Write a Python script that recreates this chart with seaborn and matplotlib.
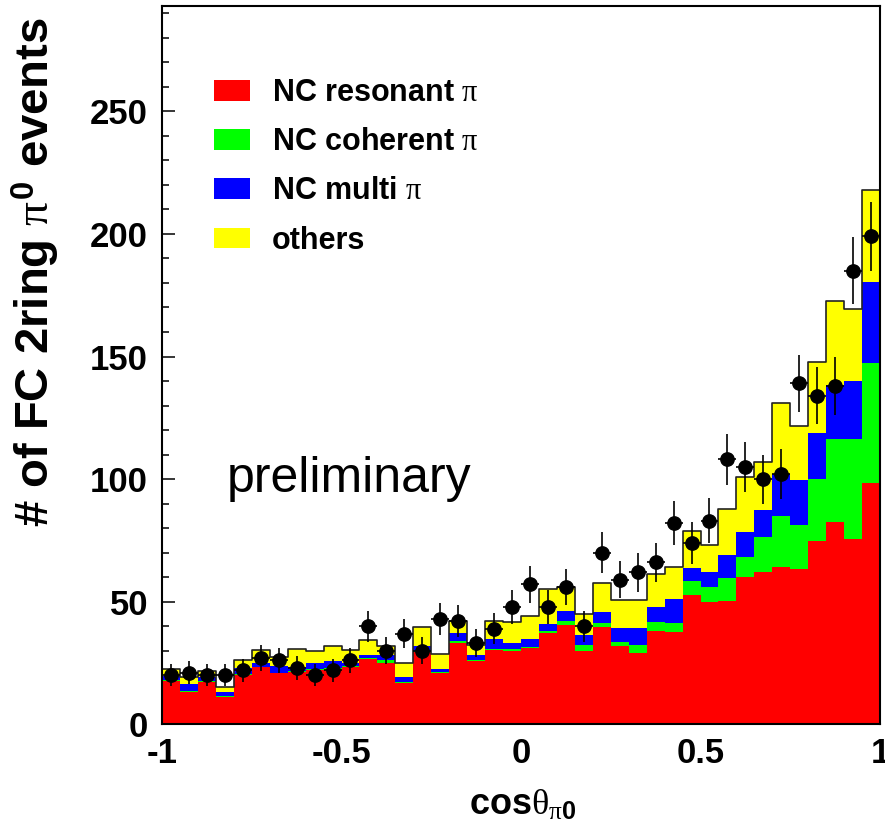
import numpy as np
import pandas as pd
import matplotlib
matplotlib.use("Agg")
import matplotlib.pyplot as plt
from matplotlib.patches import Patch
from matplotlib.ticker import MultipleLocator
import seaborn as sns

# 40 bins in cos(theta_pi0) from -1 to 1
bin_edges = np.linspace(-1.0, 1.0, 41)
bin_centers = 0.5 * (bin_edges[:-1] + bin_edges[1:])

# Monte Carlo expectation per bin, split by interaction mode
nc_resonant = [17.7, 13.3, 17.4, 11.3, 20.1, 23.3, 20.8, 21.2, 22.2, 22.6,
               23.5, 26.5, 25.0, 17.0, 29.3, 20.7, 33.3, 25.6, 30.1, 29.8,
               30.9, 37.4, 40.5, 29.7, 39.6, 31.7, 29.0, 38.2, 37.8, 52.8,
               49.7, 50.1, 59.9, 62.2, 64.2, 63.3, 74.8, 82.5, 75.5, 98.5]
nc_coherent = [0.3, 0.2, 0.2, 0.4, 0.2, 0.2, 0.2, 0.3, 0.4, 0.3,
               0.3, 0.7, 1.3, 0.2, 0.6, 0.7, 0.8, 0.7, 0.6, 0.9,
               0.4, 0.8, 1.7, 2.7, 1.6, 1.9, 3.2, 3.6, 3.6, 5.7,
               6.1, 9.4, 8.4, 14.3, 20.8, 17.9, 25.4, 33.7, 40.7, 48.8]
nc_multi = [1.6, 2.8, 1.6, 1.5, 2.6, 1.4, 2.8, 2.0, 2.3, 2.7,
            1.1, 1.1, 2.0, 2.1, 2.1, 1.2, 3.2, 2.0, 4.1, 2.5,
            3.3, 2.8, 3.8, 4.1, 4.4, 5.7, 7.1, 6.1, 9.8, 5.3,
            6.4, 9.6, 10.2, 11.0, 17.1, 18.4, 18.7, 22.2, 23.7, 33.0]
others = [2.8, 2.9, 2.3, 1.9, 3.1, 5.4, 3.8, 7.1, 5.0, 6.5,
          5.2, 6.0, 3.8, 5.6, 7.5, 6.0, 4.6, 4.1, 7.2, 8.3,
          9.6, 14.1, 9.8, 8.4, 12.2, 11.3, 11.2, 13.3, 12.9, 15.1,
          11.0, 18.8, 22.4, 19.4, 29.1, 21.9, 28.9, 34.1, 29.6, 37.8]

# Observed events per bin
data_counts = [20, 21, 20, 20, 22, 27, 26, 23, 20, 22,
               26, 40, 30, 37, 30, 43, 42, 33, 39, 48,
               57, 48, 56, 40, 70, 59, 62, 66, 82, 74,
               83, 108, 105, 100, 102, 139, 134, 138, 185, 199]

mode_labels = ["NC resonant $\\pi$", "NC coherent $\\pi$", "NC multi $\\pi$", "others"]
mode_colors = ["#ff0000", "#00ff00", "#0000ff", "#ffff00"]

sns.set_theme(style="ticks")
plt.rcParams["font.family"] = ["Liberation Sans", "DejaVu Sans"]
plt.rcParams["axes.unicode_minus"] = False
plt.rcParams["mathtext.fontset"] = "custom"
plt.rcParams["mathtext.rm"] = "Liberation Serif"
plt.rcParams["mathtext.it"] = "Liberation Serif"
plt.rcParams["mathtext.bf"] = "Liberation Sans:bold"
for key in ["text.color", "axes.labelcolor", "xtick.color", "ytick.color",
            "xtick.labelcolor", "ytick.labelcolor", "axes.edgecolor"]:
    plt.rcParams[key] = "black"

mc = pd.DataFrame({
    "cos": np.tile(bin_centers, 4),
    "n": np.concatenate([nc_resonant, nc_coherent, nc_multi, others]),
    "mode": np.repeat(mode_labels, len(bin_centers)),
})
total = np.array(nc_resonant) + np.array(nc_coherent) + np.array(nc_multi) + np.array(others)
edges_list = list(bin_edges)

fig = plt.figure(figsize=(8.85, 8.27), dpi=100)
ax = fig.add_axes([162 / 885, (827 - 724.2) / 827, 718 / 885, 718.2 / 827])

# stacked MC components (last hue level ends up at the bottom of the stack)
sns.histplot(data=mc, x="cos", weights="n", hue="mode",
             hue_order=mode_labels[::-1],
             palette=dict(zip(mode_labels, mode_colors)),
             bins=edges_list, multiple="stack", element="step",
             fill=True, alpha=1, linewidth=0, legend=False, ax=ax)

# outline of the total expectation
sns.histplot(x=bin_centers, weights=total, bins=edges_list, element="step",
             fill=False, color="#222222", linewidth=1.2, ax=ax)

# data points with sqrt(N) errors
ax.errorbar(bin_centers, data_counts, yerr=np.sqrt(data_counts), xerr=0.025,
            fmt="o", color="black", ms=9.6, elinewidth=1.2, capsize=0, zorder=5)

ax.set_xlim(-1, 1)
ax.set_ylim(0, 293)
ax.xaxis.set_minor_locator(MultipleLocator(0.1))
ax.yaxis.set_minor_locator(MultipleLocator(10))
ax.set_xticks([-1, -0.5, 0, 0.5, 1])
ax.set_xticklabels(["-1", "-0.5", "0", "0.5", "1"])
ax.set_yticks([0, 50, 100, 150, 200, 250])
ax.set_yticklabels(["0", "50", "100", "150", "200", "250"])
ax.tick_params(which="both", direction="in", top=False, right=False,
               width=1.1, color="black", labelcolor="black")
ax.tick_params(which="major", length=9.4)
ax.tick_params(which="minor", length=5)
ax.tick_params(axis="y", which="major", pad=10)
ax.tick_params(axis="x", which="major", pad=9)
for lab in ax.get_xticklabels() + ax.get_yticklabels():
    lab.set_fontsize(25)
    lab.set_fontweight("bold")
for sp in ax.spines.values():
    sp.set_linewidth(1.5)
    sp.set_color("black")
    sp.set_visible(True)
ax.set_xlabel("")
ax.set_ylabel("")

fig.text(62 / 885, 1 - 17 / 827, "# of FC 2ring $\\pi^{\\mathbf{0}}$ events",
         rotation=90, ha="right", va="top", fontsize=34, fontweight="bold",
         color="black")
fig.text(523 / 885, 1 - 815 / 827, "cos$\\theta_{\\pi\\mathbf{0}}$",
         ha="center", va="baseline", fontsize=26, fontweight="bold",
         color="black")

ax.text((227 - 162) / 718, (724.2 - 492) / 718.2, "preliminary",
        transform=ax.transAxes, ha="left", va="baseline", fontsize=36,
        color="black")

handles = [Patch(facecolor=c, edgecolor="none") for c in mode_colors]
leg = ax.legend(handles, mode_labels, loc="upper left",
                bbox_to_anchor=((214 - 162) / 718, (724.2 - 78) / 718.2),
                frameon=False,
                prop={"family": "Liberation Sans", "weight": "bold", "size": 22},
                handlelength=1.18, handleheight=0.66, handletextpad=0.72,
                labelspacing=0.63, borderpad=0, borderaxespad=0)
for t in leg.get_texts():
    t.set_color("black")

fig.savefig("out.png", dpi=100)
